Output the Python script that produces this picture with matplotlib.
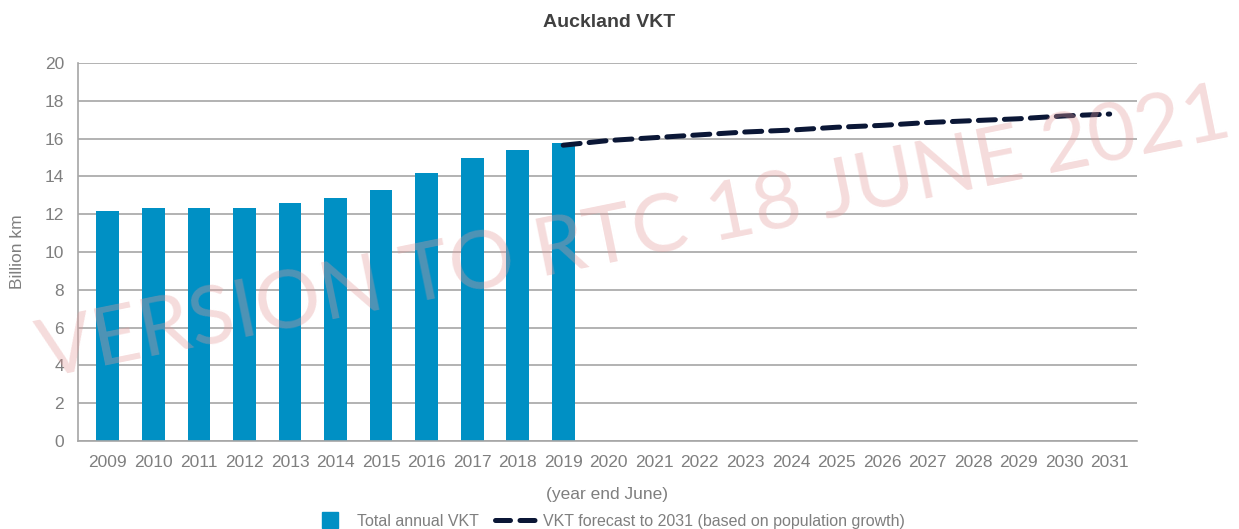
import matplotlib
matplotlib.use("Agg")
import matplotlib.pyplot as plt
from matplotlib.lines import Line2D

plt.rcParams['font.family'] = ['Liberation Sans', 'DejaVu Sans']

years = [str(y) for y in range(2009, 2032)]
bar_years = [str(y) for y in range(2009, 2020)]
bar_values = [12.17, 12.33, 12.33, 12.33, 12.59, 12.86, 13.28, 14.18, 14.97, 15.40, 15.77]
fc_years = [str(y) for y in range(2019, 2032)]
fc_values = [15.65, 15.9, 16.05, 16.2, 16.35, 16.45, 16.6, 16.7, 16.85, 16.95, 17.05, 17.2, 17.3]

BAR_C = '#0090c4'
LINE_C = '#0b1736'
GRID_C = '#a6a6a6'
TXT_C = '#7f7f7f'

fig = plt.figure(figsize=(12.39, 5.29), dpi=100)
ax = fig.add_axes([78 / 1239, 88 / 529, 1059 / 1239, 378 / 529])

idx = {y: i for i, y in enumerate(years)}
ax.bar([idx[y] for y in bar_years], bar_values, width=0.5, color=BAR_C, zorder=2)
ax.plot([idx[y] for y in fc_years], fc_values, color=LINE_C, lw=3.6,
        dashes=(3.4, 1.8), dash_capstyle='round', zorder=3)

ax.set_xlim(-0.655, len(years) - 0.4)
ax.set_ylim(0, 20)
ax.set_yticks(range(0, 21, 2))
ax.set_xticks(range(len(years)))
ax.set_xticklabels(years)
ax.yaxis.grid(True, color=GRID_C, lw=1.2, zorder=0)
ax.set_axisbelow(True)
for s in ['top', 'right']:
    ax.spines[s].set_visible(False)
ax.spines['left'].set_color(GRID_C)
ax.spines['left'].set_linewidth(1.2)
ax.spines['bottom'].set_color(GRID_C)
ax.spines['bottom'].set_linewidth(1.2)
ax.tick_params(axis='both', length=0, colors=TXT_C, labelsize=12.5)
ax.tick_params(axis='x', pad=10)
ax.tick_params(axis='y', pad=10)

ax.set_ylabel('Billion km', color=TXT_C, fontsize=12.5, labelpad=14)
ax.set_xlabel('(year end June)', color=TXT_C, fontsize=12.5, labelpad=12)
fig.text(0.492, 0.958, 'Auckland VKT', ha='center', va='center', fontsize=14,
         color='#404040', fontweight='bold')

handles = [
    Line2D([], [], marker='s', ls='none', color=BAR_C, markersize=11),
    Line2D([], [], color=LINE_C, lw=3.6, dashes=(3.0, 1.9), dash_capstyle='round'),
]
labels = ['Total annual VKT', 'VKT forecast to 2031 (based on population growth)']
leg = fig.legend(handles, labels, loc='center', bbox_to_anchor=(0.49, 0.015), ncol=2,
                 frameon=False, fontsize=11.5, handlelength=2.6, columnspacing=1.0,
                 handletextpad=0.4)
for t in leg.get_texts():
    t.set_color(TXT_C)

fig.text(0.512, 0.555, 'VERSION TO RTC 18 JUNE 2021', ha='center', va='center',
         fontsize=59, color='#e49a9a', alpha=0.35, rotation=11.5,
         family=['Lato', 'Liberation Sans', 'DejaVu Sans'],
         zorder=10)

fig.savefig('out.png', dpi=100)
